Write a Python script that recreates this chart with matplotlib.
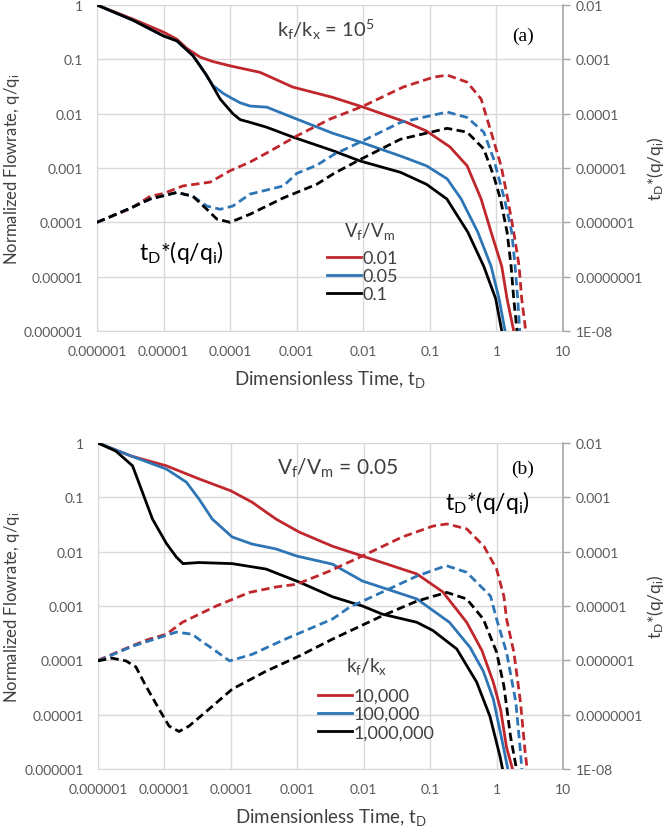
import numpy as np
import matplotlib
matplotlib.use("Agg")
import matplotlib.pyplot as plt
from matplotlib.lines import Line2D

plt.rcParams['font.family'] = ['Lato', 'DejaVu Sans']
plt.rcParams['mathtext.fontset'] = 'custom'
plt.rcParams['mathtext.rm'] = 'Lato'
plt.rcParams['mathtext.it'] = 'Lato:italic'

# ---------------- data (log10 values) ----------------
# Panel (a): kf/kx = 1e5 ; series by Vf/Vm
a_red_t   = [-6, -5.46, -5.0, -4.8, -4.65, -4.45, -4.26, -4.0, -3.55, -3.06, -2.46, -2.0, -1.35, -1.05, -0.70, -0.44, -0.23, -0.08, 0.08, 0.16, 0.26]
a_red_q   = [0, -0.26, -0.50, -0.63, -0.80, -0.96, -1.04, -1.12, -1.24, -1.51, -1.70, -1.88, -2.16, -2.32, -2.61, -2.96, -3.57, -4.18, -4.81, -5.41, -6.0]
a_blue_t  = [-6, -5.46, -5.0, -4.8, -4.56, -4.45, -4.26, -4.1, -4.0, -3.85, -3.70, -3.45, -3.06, -2.46, -2.05, -1.44, -1.05, -0.74, -0.53, -0.28, -0.08, 0.04, 0.13]
a_blue_q  = [0, -0.28, -0.57, -0.66, -0.93, -1.12, -1.48, -1.63, -1.70, -1.80, -1.86, -1.88, -2.07, -2.36, -2.52, -2.78, -2.96, -3.20, -3.57, -4.18, -4.81, -5.41, -6.0]
a_black_t = [-6, -5.46, -5.0, -4.8, -4.56, -4.35, -4.15, -3.96, -3.85, -3.70, -3.45, -3.06, -2.46, -2.05, -1.44, -1.05, -0.745, -0.43, -0.19, -0.01, 0.08]
a_black_q = [0, -0.28, -0.57, -0.66, -0.93, -1.30, -1.73, -2.00, -2.11, -2.16, -2.25, -2.43, -2.68, -2.87, -3.08, -3.30, -3.57, -4.18, -4.81, -5.41, -6.0]

# tD*(q/qi) on the right axis
a_red_d_t   = [-6, -5.5, -5.2, -5.0, -4.71, -4.3, -4.0, -3.7, -3.4, -3.0, -2.5, -2.0, -1.4, -0.95, -0.74, -0.44, -0.23, -0.08, 0.07, 0.17, 0.26, 0.34, 0.38, 0.44]
a_red_d_v   = [-6.0, -5.75, -5.52, -5.47, -5.33, -5.26, -5.05, -4.89, -4.69, -4.41, -4.10, -3.86, -3.51, -3.33, -3.29, -3.42, -3.73, -4.34, -4.96, -5.57, -6.18, -6.80, -7.41, -8.0]
a_blue_d_t  = [-6, -5.5, -5.2, -4.8, -4.56, -4.35, -4.15, -3.96, -3.70, -3.2, -3.0, -2.7, -2.44, -2.04, -1.44, -0.74, -0.44, -0.19, -0.04, 0.12, 0.23, 0.28, 0.32, 0.35]
a_blue_d_v  = [-6.0, -5.74, -5.57, -5.45, -5.52, -5.70, -5.76, -5.70, -5.48, -5.33, -5.10, -4.95, -4.75, -4.52, -4.16, -3.97, -4.07, -4.34, -4.84, -5.57, -6.18, -6.80, -7.41, -8.0]
a_black_d_t = [-6, -5.5, -5.2, -4.8, -4.56, -4.35, -4.2, -4.0, -3.70, -3.2, -2.7, -2.44, -2.04, -1.44, -0.74, -0.44, -0.19, -0.04, 0.06, 0.16, 0.22, 0.26, 0.31]
a_black_d_v = [-6.0, -5.74, -5.57, -5.45, -5.52, -5.76, -5.94, -6.0, -5.85, -5.55, -5.30, -5.10, -4.84, -4.47, -4.27, -4.34, -4.65, -5.15, -5.57, -6.18, -6.80, -7.41, -8.0]

# Panel (b): Vf/Vm = 0.05 ; series by kf/kx
b_red_t   = [-6, -5.5, -4.97, -4.48, -4.0, -3.68, -3.32, -2.97, -2.47, -2.02, -1.20, -0.81, -0.45, -0.22, -0.05, 0.06, 0.15, 0.24]
b_red_q   = [0, -0.24, -0.42, -0.66, -0.88, -1.09, -1.40, -1.64, -1.90, -2.08, -2.41, -2.74, -3.30, -3.82, -4.40, -4.90, -5.60, -6.0]
b_blue_t  = [-6, -5.5, -4.97, -4.67, -4.48, -4.28, -3.98, -3.68, -3.32, -3.01, -2.47, -2.02, -1.20, -0.71, -0.40, -0.20, -0.05, 0.07, 0.17]
b_blue_q  = [0, -0.24, -0.48, -0.72, -1.03, -1.40, -1.73, -1.86, -1.95, -2.08, -2.23, -2.54, -2.87, -3.30, -3.76, -4.20, -4.71, -5.40, -6.0]
b_black_t = [-6, -5.73, -5.48, -5.33, -5.18, -4.97, -4.82, -4.72, -4.48, -3.98, -3.47, -2.97, -2.47, -2.02, -1.72, -1.20, -0.96, -0.60, -0.30, -0.10, 0.05, 0.09]
b_black_q = [0, -0.15, -0.42, -0.91, -1.40, -1.85, -2.10, -2.22, -2.20, -2.22, -2.32, -2.56, -2.83, -3.0, -3.15, -3.30, -3.45, -3.79, -4.40, -5.03, -5.76, -6.0]

b_red_d_t   = [-6, -5.5, -5.23, -4.97, -4.73, -4.22, -3.72, -3.32, -3.01, -2.52, -2.02, -1.42, -0.96, -0.75, -0.45, -0.19, 0.0, 0.11, 0.15, 0.26, 0.36, 0.43, 0.46]
b_red_d_v   = [-6.0, -5.74, -5.61, -5.52, -5.30, -5.0, -4.75, -4.65, -4.60, -4.36, -4.08, -3.73, -3.53, -3.49, -3.58, -3.90, -4.32, -4.82, -5.24, -5.85, -6.77, -7.69, -8.0]
b_blue_d_t  = [-6, -5.48, -4.82, -4.58, -4.43, -4.33, -4.02, -3.68, -3.2, -2.47, -2.21, -1.20, -0.81, -0.75, -0.45, -0.09, 0.0, 0.15, 0.29, 0.36, 0.38]
b_blue_d_v  = [-6.01, -5.74, -5.48, -5.52, -5.66, -5.74, -6.01, -5.89, -5.62, -5.24, -5.02, -4.45, -4.28, -4.26, -4.38, -4.82, -5.24, -5.85, -6.77, -7.69, -8.0]
b_black_d_t = [-6, -5.79, -5.58, -5.43, -5.28, -5.08, -4.93, -4.78, -4.63, -4.33, -3.98, -3.47, -2.97, -2.47, -1.72, -1.20, -0.75, -0.45, -0.2, 0.0, 0.11, 0.21, 0.30]
b_black_d_v = [-6.01, -5.96, -6.01, -6.12, -6.47, -6.90, -7.21, -7.31, -7.21, -6.90, -6.53, -6.20, -5.92, -5.61, -5.18, -4.91, -4.75, -4.87, -5.24, -5.85, -6.47, -7.40, -8.0]

x_ticks = [1e-6, 1e-5, 1e-4, 1e-3, 1e-2, 1e-1, 1, 10]
x_labels = ['0.000001', '0.00001', '0.0001', '0.001', '0.01', '0.1', '1', '10']
yl_ticks = [1e-6, 1e-5, 1e-4, 1e-3, 1e-2, 1e-1, 1]
yl_labels = ['0.000001', '0.00001', '0.0001', '0.001', '0.01', '0.1', '1']
yr_ticks = [1e-8, 1e-7, 1e-6, 1e-5, 1e-4, 1e-3, 1e-2]
yr_labels = ['1E-08', '0.0000001', '0.000001', '0.00001', '0.0001', '0.001', '0.01']

RED = '#C0272D'
BLUE = '#2E75B6'
BLACK = '#000000'
GRID = '#D9D9D9'
TICK = '#595959'
TXT = '#404040'

W, H = 668, 829
fig = plt.figure(figsize=(W / 100, H / 100), dpi=100)


def p(v):
    return np.power(10.0, np.asarray(v, dtype=float))


def fx(x):
    return x / W


def fy(y):
    return 1 - y / H


def make_panel(px_box, solids, dashed, labels, leg_anchor):
    left_px, top_px, right_px, bottom_px = px_box
    ax_w = right_px - left_px
    ax_h = bottom_px - top_px
    ax = fig.add_axes([fx(left_px), fy(bottom_px), ax_w / W, ax_h / H])
    ax.set_xscale('log')
    ax.set_yscale('log')
    ax.set_xlim(1e-6, 10)
    ax.set_ylim(1e-6, 1)
    ax2 = ax.twinx()
    ax2.set_yscale('log')
    ax2.set_ylim(1e-8, 1e-2)

    handles = []
    for t, q, c in solids:
        ax.plot(p(t), p(q), color=c, lw=2.0, solid_joinstyle='round', zorder=3)
        handles.append(Line2D([], [], color=c, lw=2.0))
    for t, v, c in dashed:
        ax2.plot(p(t), p(v), color=c, lw=2.0, linestyle=(0, (3, 1.6)), dash_joinstyle='round', zorder=3)

    ax.set_xticks(x_ticks)
    ax.set_xticklabels(x_labels)
    ax.set_yticks(yl_ticks)
    ax.set_yticklabels(yl_labels)
    ax.xaxis.set_minor_locator(matplotlib.ticker.NullLocator())
    ax.yaxis.set_minor_locator(matplotlib.ticker.NullLocator())
    ax2.set_yticks(yr_ticks)
    ax2.set_yticklabels(yr_labels)
    ax2.yaxis.set_minor_locator(matplotlib.ticker.NullLocator())

    ax.grid(True, which='major', color=GRID, lw=1.0)
    ax.set_axisbelow(True)
    ax.tick_params(axis='x', length=0, labelsize=10, labelcolor=TICK, pad=10)
    ax.tick_params(axis='y', length=0, labelsize=10, labelcolor=TICK, pad=10)
    ax2.tick_params(axis='y', length=5, width=1, color='#A6A6A6', labelsize=10, labelcolor=TICK, pad=4, direction='out')
    ax.spines['top'].set_visible(False)
    ax2.spines['top'].set_visible(False)
    for s in ['left', 'bottom']:
        ax.spines[s].set_color(GRID)
        ax2.spines[s].set_visible(False)
    ax.spines['right'].set_visible(False)
    ax2.spines['right'].set_color('#A6A6A6')
    ax2.spines['right'].set_linewidth(1.2)

    xl = ax.set_xlabel('Dimensionless Time, t$_\\mathrm{D}$', fontsize=13.5, color=TXT)
    yl = ax.set_ylabel('Normalized Flowrate, q/q$_\\mathrm{i}$', fontsize=12, color=TXT)
    yr = ax2.set_ylabel('t$_\\mathrm{D}$*(q/q$_\\mathrm{i}$)', fontsize=12.5, color=TXT)
    for lab in (xl, yl, yr):
        lab.set_va('center')
        lab.set_ha('center')
    ax.xaxis.set_label_coords(0.5, -48 / ax_h)
    ax.yaxis.set_label_coords((12 - left_px) / ax_w, 0.5)
    ax2.yaxis.set_label_coords((655 - left_px) / ax_w, 0.5)

    leg = ax.legend(handles, labels, frameon=False, fontsize=13,
                    handlelength=1.9, handletextpad=0.05,
                    labelspacing=0.12, borderpad=0, loc='center left',
                    bbox_to_anchor=leg_anchor, bbox_transform=fig.transFigure)
    for t in leg.get_texts():
        t.set_color(TXT)
    leg.set_zorder(5)
    return ax, ax2


# Panel (a)
make_panel((97, 6, 563, 332),
           [(a_red_t, a_red_q, RED), (a_blue_t, a_blue_q, BLUE), (a_black_t, a_black_q, BLACK)],
           [(a_red_d_t, a_red_d_v, RED), (a_blue_d_t, a_blue_d_v, BLUE), (a_black_d_t, a_black_d_v, BLACK)],
           ['0.01', '0.05', '0.1'], (fx(318), fy(277)))
fig.text(fx(370), fy(232), 'V$_\\mathrm{f}$/V$_\\mathrm{m}$', fontsize=13.5, color=TXT, ha='center', va='center')
fig.text(fx(326), fy(30), 'k$_\\mathrm{f}$/k$_\\mathrm{x}$ = 10$^\\mathrm{5}$', fontsize=14.5, color=TXT, ha='center', va='center')
fig.text(fx(523), fy(36), '(a)', fontsize=14, color='#000000', ha='center', va='center', family='Liberation Serif')
fig.text(fx(181), fy(253), 't$_\\mathrm{D}$*(q/q$_\\mathrm{i}$)', fontsize=16.5, color='#000000', ha='center', va='center')

# Panel (b)
make_panel((98, 444, 563, 770),
           [(b_red_t, b_red_q, RED), (b_blue_t, b_blue_q, BLUE), (b_black_t, b_black_q, BLACK)],
           [(b_red_d_t, b_red_d_v, RED), (b_blue_d_t, b_blue_d_v, BLUE), (b_black_d_t, b_black_d_v, BLACK)],
           ['10,000', '100,000', '1,000,000'], (fx(309), fy(715)))
fig.text(fx(367), fy(667), 'k$_\\mathrm{f}$/k$_\\mathrm{x}$', fontsize=13.5, color=TXT, ha='center', va='center')
fig.text(fx(338), fy(468), 'V$_\\mathrm{f}$/V$_\\mathrm{m}$ = 0.05', fontsize=15, color=TXT, ha='center', va='center')
fig.text(fx(523), fy(469), '(b)', fontsize=14, color='#000000', ha='center', va='center', family='Liberation Serif')
fig.text(fx(487), fy(503), 't$_\\mathrm{D}$*(q/q$_\\mathrm{i}$)', fontsize=16.5, color='#000000', ha='center', va='center')

fig.savefig('out.png', dpi=100)
